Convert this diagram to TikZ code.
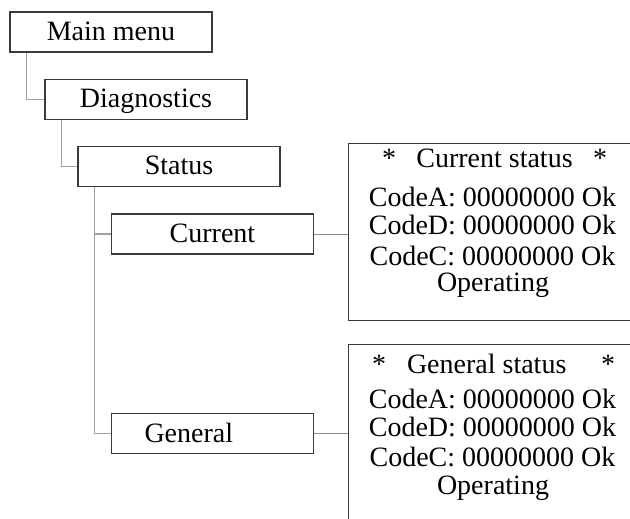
\documentclass[tikz,border=0pt]{standalone}
\usepackage{fontspec}
\setmainfont{Liberation Serif}
\usetikzlibrary{positioning,calc}
\definecolor{branch}{HTML}{A0A0A0}
\definecolor{wire}{HTML}{8C8C8C}
\definecolor{frame}{HTML}{3A3A3A}

\tikzset{
  menubox/.style={draw=frame,line width=0.6pt,minimum width=101pt,minimum height=20pt,
    inner sep=0pt,text height=9.5pt,text depth=1pt},
  panel/.style={draw=frame,line width=0.6pt,anchor=north west,inner sep=0pt,minimum width=160pt},
  branch/.style={draw=branch,line width=0.6pt},
  wire/.style={draw=wire,line width=0.5pt},
  row/.style={anchor=base,inner sep=0pt},
}

\begin{document}
\begin{tikzpicture}[x=0.5pt,y=-0.5pt,font=\fontsize{14pt}{16pt}\selectfont]
\useasboundingbox (0,0) rectangle (630,518);
\clip (0,0) rectangle (630,518);

% menu tree
\node[menubox] (main) at (111,32) {Main menu};
\node[menubox] (diag) at (146,99.5) {Diagnostics};
\node[menubox] (stat) at (179,166.5) {Status};
\node[menubox] (cur) at (212.5,234) {Current};
\node[menubox,text width=68pt,align=left,inner xsep=16.5pt] (gen) at (212.5,433.5) {General};

\coordinate (t1) at ($(main.south west)+(17,0)$);
\coordinate (t2) at ($(diag.south west)+(17,0)$);
\coordinate (t3) at ($(stat.south west)+(17,0)$);
\draw[branch] (t1) |- (diag.west);
\draw[branch] (t2) |- (stat.west);
\draw[branch] (t3) |- (gen.west);
\draw[branch] (cur.west) -- (cur.west -| t3);

% display panels (cut off by the page edge)
\node[panel,minimum height=88.5pt] (pcur) at (347.5,143) {};
\node[panel,minimum height=110pt] (pgen) at (347.5,344) {};
\draw[wire] (cur.east) -- (cur.east -| pcur.west);
\draw[wire] (gen.east) -- (gen.east -| pgen.west);

\node[row] (cur-t) at (494.5,168) {\makebox[112.5pt]{*\hfill Current status\hfill*}};
\node[row] (cur-a) at (492.5,206.7) {CodeA: 00000000 Ok};
\node[row] (cur-d) at (492.5,234.3) {CodeD: 00000000 Ok};
\node[row] (cur-c) at (492.5,265.5) {CodeC: 00000000 Ok};
\node[row] (cur-o) at (493,291) {Operating};

\node[row] (gen-t) at (493.5,373) {\makebox[121.5pt][l]{*\hspace{10.5pt}General status\hfill*}};
\node[row] (gen-a) at (492.5,408) {CodeA: 00000000 Ok};
\node[row] (gen-d) at (492.5,436.7) {CodeD: 00000000 Ok};
\node[row] (gen-c) at (492.5,466) {CodeC: 00000000 Ok};
\node[row] (gen-o) at (493,494) {Operating};
\end{tikzpicture}
\end{document}
